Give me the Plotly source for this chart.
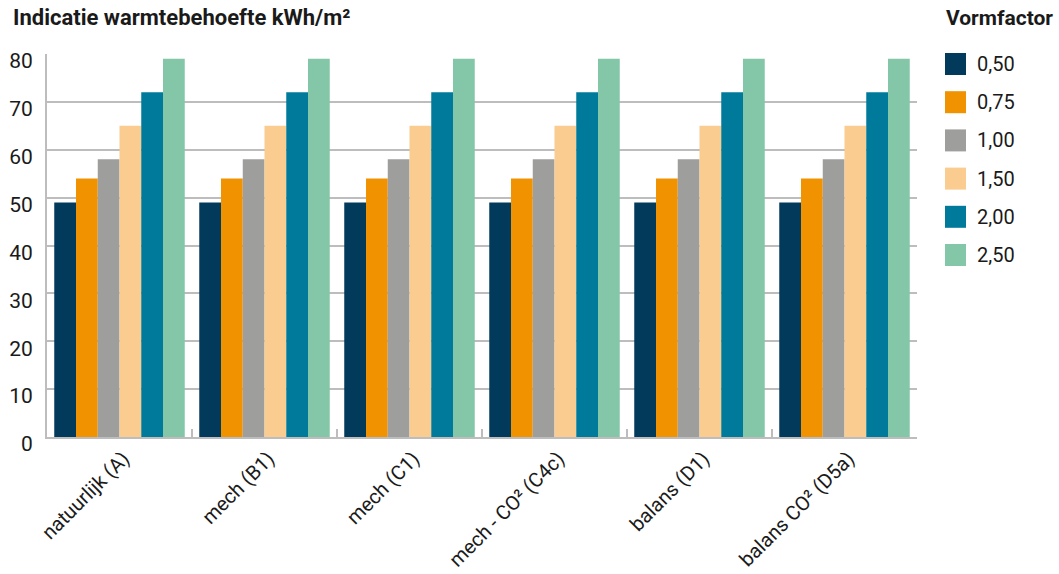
import plotly.graph_objects as go

# Ventilation systems on the x axis
categories = ["natuurlijk (A)", "mech (B1)", "mech (C1)",
              "mech - CO² (C4c)", "balans (D1)", "balans CO² (D5a)"]

# Heat demand (kWh/m²) per shape factor, one value per system
vf_050 = [49, 49, 49, 49, 49, 49]
vf_075 = [54, 54, 54, 54, 54, 54]
vf_100 = [58, 58, 58, 58, 58, 58]
vf_150 = [65, 65, 65, 65, 65, 65]
vf_200 = [72, 72, 72, 72, 72, 72]
vf_250 = [79, 79, 79, 79, 79, 79]

series_names = ["0,50", "0,75", "1,00", "1,50", "2,00", "2,50"]
series_values = [vf_050, vf_075, vf_100, vf_150, vf_200, vf_250]
colors = ["#023A5C", "#F19200", "#9E9E9D", "#FACC90", "#007A9B", "#84C7A8"]

y_ticks = [0, 10, 20, 30, 40, 50, 60, 70, 80]

FONT = "Roboto"
TEXT = "#1a1a1a"
GRID = "#bdbdbd"

W, H = 1059, 574
L, R, T, B = 47, 142, 54, 137
pw, ph = W - L - R, H - T - B


def px_x(px):
    return (px - L) / pw


def px_y(py):
    return (H - B - py) / ph


fig = go.Figure()
for name, vals, col in zip(series_names, series_values, colors):
    fig.add_trace(go.Bar(x=categories, y=vals, name=name,
                         marker=dict(color=col, line=dict(width=0)),
                         showlegend=False))

fig.update_layout(
    width=W, height=H,
    margin=dict(l=L, r=R, t=T, b=B, autoexpand=False),
    paper_bgcolor="white", plot_bgcolor="white",
    barmode="group", bargap=0.1, bargroupgap=0,
    font=dict(family=FONT, size=20, color=TEXT),
)

fig.update_xaxes(
    type="category", tickangle=-45, automargin=False,
    showline=True, linecolor=GRID, linewidth=2,
    ticks="inside", tickson="boundaries", ticklen=8, tickwidth=2, tickcolor=GRID,
    showgrid=False, tickfont=dict(size=20, color=TEXT),
    ticklabelshift=4,
)
fig.update_yaxes(
    range=[0, 80], tickvals=y_ticks, ticks="", automargin=False,
    showline=True, linecolor=GRID, linewidth=2,
    showgrid=True, gridcolor=GRID, gridwidth=2, zeroline=False,
    tickfont=dict(size=21, color=TEXT),
    ticklabelshift=7, ticklabelstandoff=8,
)

# Chart title and legend heading
fig.add_annotation(text="<b>Indicatie warmtebehoefte kWh/m²</b>",
                   xref="paper", yref="paper", x=px_x(11), y=px_y(18),
                   xanchor="left", yanchor="middle",
                   showarrow=False, font=dict(size=22, color=TEXT))
fig.add_annotation(text="<b>Vormfactor</b>", xref="paper", yref="paper",
                   x=px_x(944), y=px_y(18), xanchor="left", yanchor="middle",
                   showarrow=False, font=dict(size=21, color=TEXT))

# Legend swatches and labels on the right
for i, (name, col) in enumerate(zip(series_names, colors)):
    top = 53 + i * 38.2
    fig.add_shape(type="rect", xref="paper", yref="paper",
                  x0=px_x(945), x1=px_x(966), y0=px_y(top), y1=px_y(top + 22),
                  fillcolor=col, line=dict(width=0))
    fig.add_annotation(text=name, xref="paper", yref="paper",
                       x=px_x(975), y=px_y(top + 11), xanchor="left", yanchor="middle",
                       showarrow=False, font=dict(size=20, color=TEXT))

fig.write_html("out.html")
